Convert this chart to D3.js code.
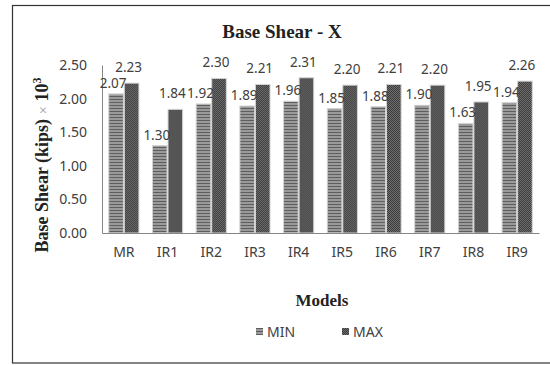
<!doctype html>
<html>
  <head>
    <script src="https://cdn.jsdelivr.net/npm/d3@7"></script>
    <style>
      body { margin: 0; background: #fff; }
    </style>
  </head>
  <body>
    <svg id="chart" width="550" height="365"></svg>

    <script>
      // values
      var models = ["MR", "IR1", "IR2", "IR3", "IR4", "IR5", "IR6", "IR7", "IR8", "IR9"];
      var minValues = [2.07, 1.30, 1.92, 1.89, 1.96, 1.85, 1.88, 1.90, 1.63, 1.94];
      var maxValues = [2.23, 1.84, 2.30, 2.21, 2.31, 2.20, 2.21, 2.20, 1.95, 2.26];
      var seriesNames = ["MIN", "MAX"];
      var yTicks = [0, 0.5, 1.0, 1.5, 2.0, 2.5];

      var svg = d3.select("#chart");

      // hatch patterns like the excel fills
      var defs = svg.append("defs");
      var pMin = defs.append("pattern").attr("id", "pmin")
        .attr("patternUnits", "userSpaceOnUse").attr("width", 4).attr("height", 3);
      pMin.append("rect").attr("width", 4).attr("height", 3).attr("fill", "#9a9a9a");
      pMin.append("rect").attr("width", 4).attr("height", 1).attr("fill", "#5e5e5e");

      var pMax = defs.append("pattern").attr("id", "pmax")
        .attr("patternUnits", "userSpaceOnUse").attr("width", 2).attr("height", 2);
      pMax.append("rect").attr("width", 2).attr("height", 2).attr("fill", "#3a3a3a");
      pMax.append("rect").attr("width", 1).attr("height", 1).attr("fill", "#707070");
      pMax.append("rect").attr("x", 1).attr("y", 1).attr("width", 1).attr("height", 1).attr("fill", "#707070");

      // outer frame
      svg.append("rect")
        .attr("x", 12.5).attr("y", 5.5)
        .attr("width", 545).attr("height", 357.5)
        .attr("fill", "none").attr("stroke", "#333").attr("stroke-width", 1.2);

      var x = d3.scaleBand().domain(models).range([102, 539])
        .paddingInner(0.31).paddingOuter(0.155);
      var xs = d3.scaleBand().domain(seriesNames).range([0, x.bandwidth()]).paddingInner(0.06);
      var y = d3.scaleLinear().domain([0, 2.5]).range([233, 65]);

      var fills = { MIN: "url(#pmin)", MAX: "url(#pmax)" };

      var rows = models.map(function(m, i) {
        return { model: m, MIN: minValues[i], MAX: maxValues[i] };
      });

      // y tick labels
      var yAxis = d3.axisLeft(y).tickValues(yTicks).tickFormat(d3.format(".2f")).tickSize(0).tickPadding(15);
      var gy = svg.append("g").attr("transform", "translate(102,0)").call(yAxis);
      gy.select(".domain").attr("stroke", "#868686");
      gy.selectAll("text")
        .attr("font-family", "Noto Sans").attr("font-size", 14).attr("fill", "#404040");

      // bars
      var groups = svg.selectAll("g.grp").data(rows).enter().append("g")
        .attr("class", "grp")
        .attr("transform", function(d) { return "translate(" + x(d.model) + ",0)"; });

      groups.selectAll("rect").data(function(d) {
        return seriesNames.map(function(s) { return { key: s, value: d[s] }; });
      }).enter().append("rect")
        .attr("x", function(d) { return xs(d.key); })
        .attr("y", function(d) { return y(d.value); })
        .attr("width", xs.bandwidth())
        .attr("height", function(d) { return y(0) - y(d.value); })
        .attr("fill", function(d) { return fills[d.key]; })
        .attr("stroke", "#d4d4d4").attr("stroke-width", 1);

      groups.selectAll("text").data(function(d) {
        return seriesNames.map(function(s) { return { key: s, value: d[s] }; });
      }).enter().append("text")
        .attr("x", function(d) { return xs(d.key) + xs.bandwidth() / 2 - 3; })
        .attr("y", function(d) { return y(d.value) - (d.key == "MIN" ? 6 : 11); })
        .attr("text-anchor", "middle")
        .attr("font-family", "Noto Sans").attr("font-size", 13.5).attr("fill", "#404040")
        .text(function(d) { return d.value.toFixed(2); });

      // x axis
      var xAxis = d3.axisBottom(x).tickSize(0).tickPadding(14);
      var gx = svg.append("g").attr("transform", "translate(0,233)").call(xAxis);
      gx.select(".domain").attr("stroke", "#868686");
      gx.selectAll("text")
        .attr("font-family", "Noto Sans").attr("font-size", 14).attr("fill", "#404040");

      // titles
      svg.append("text")
        .attr("x", 282).attr("y", 38).attr("text-anchor", "middle")
        .attr("font-family", "Liberation Serif").attr("font-weight", "bold").attr("font-size", 19)
        .attr("fill", "#222")
        .text("Base Shear - X");

      svg.append("text")
        .attr("x", 322).attr("y", 306).attr("text-anchor", "middle")
        .attr("font-family", "Liberation Serif").attr("font-weight", "bold").attr("font-size", 17)
        .attr("fill", "#222")
        .text("Models");

      var yt = svg.append("text")
        .attr("transform", "translate(48,165) rotate(-90)")
        .attr("text-anchor", "middle")
        .attr("font-family", "Liberation Serif").attr("font-weight", "bold").attr("font-size", 18)
        .attr("fill", "#222");
      yt.append("tspan").text("Base Shear (kips) ");
      yt.append("tspan").attr("font-weight", "normal").attr("fill", "#999").attr("font-size", 15).text("×");
      yt.append("tspan").text(" 10");
      yt.append("tspan").attr("font-size", 12).attr("dy", -7).text("3");

      // legend
      var legX = [256, 342];
      var leg = svg.selectAll("g.leg").data(seriesNames).enter().append("g")
        .attr("class", "leg")
        .attr("transform", function(d, i) { return "translate(" + legX[i] + ",328)"; });
      leg.append("rect").attr("width", 7).attr("height", 7)
        .attr("fill", function(d) { return fills[d]; });
      leg.append("text").attr("x", 11).attr("y", 9)
        .attr("font-family", "Noto Sans").attr("font-size", 14).attr("fill", "#404040")
        .text(function(d) { return d; });
    </script>
  </body>
</html>
